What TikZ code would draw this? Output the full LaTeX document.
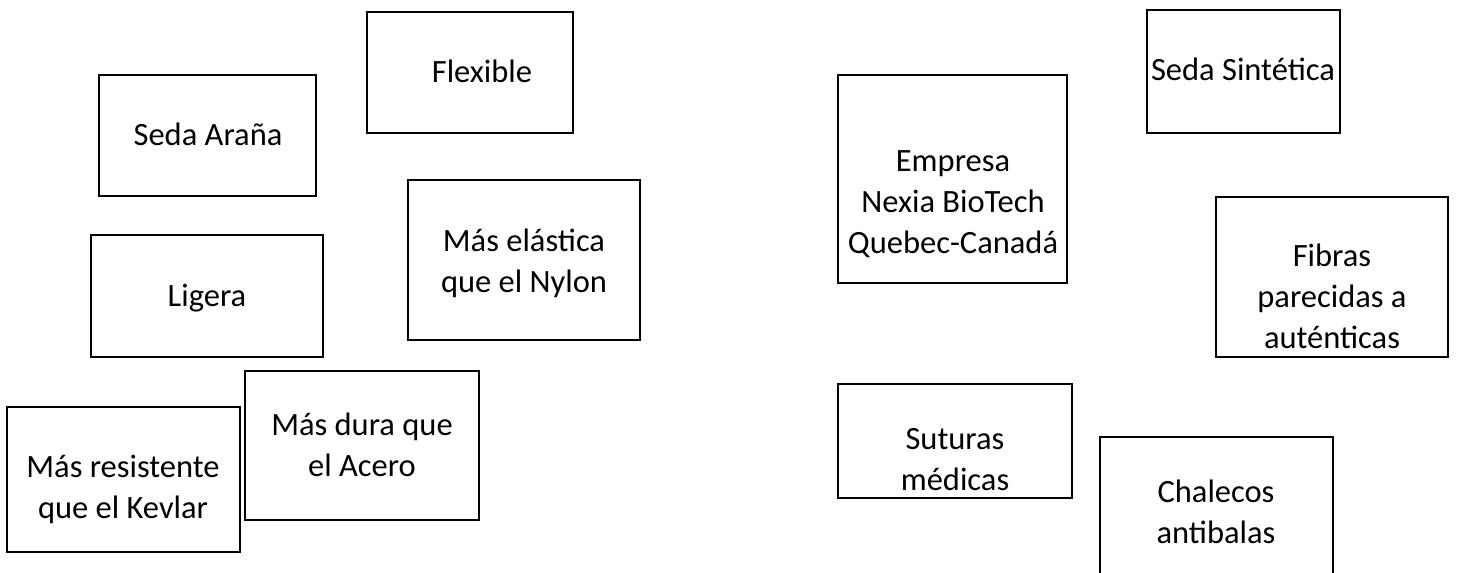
\documentclass[tikz,border=0pt]{standalone}
\usepackage{fontspec}
\setmainfont{Carlito}
\begin{document}
\begin{tikzpicture}[x=1pt,y=-1pt,
  card/.style={draw=black,line width=1.6pt,fill=white,rectangle,inner sep=0pt},
  lbl/.style={anchor=base,align=center,font=\fontsize{32.5}{41}\selectfont,inner sep=0pt}]
\clip (0,0) rectangle (1457,573);
\fill[white] (0,0) rectangle (1457,573);
% left group
\node[card,minimum width=217pt,minimum height=121pt] (bAra) at (207.5,135.5) {};
\node[lbl] (tAra) at (208,145) {Seda Araña};
\node[card,minimum width=206pt,minimum height=121pt] (bFle) at (470,72.5) {};
\node[lbl] (tFle) at (482,82) {Flexible};
\node[card,minimum width=232pt,minimum height=122pt] (bLig) at (207,296) {};
\node[lbl] (tLig) at (207,306) {Ligera};
\node[card,minimum width=232pt,minimum height=160pt] (bEla) at (524,260) {};
\node[lbl] (tEla) at (524,292) {Más elástica\\que el Nylon};
\node[card,minimum width=233pt,minimum height=145pt] (bKev) at (123.5,479.5) {};
\node[lbl] (tKev) at (123,518) {Más resistente\\que el Kevlar};
\node[card,minimum width=234pt,minimum height=149pt] (bAce) at (362,445.5) {};
\node[lbl] (tAce) at (362,476) {Más dura que\\el Acero};
% right group
\node[card,minimum width=229pt,minimum height=208pt] (bEmp) at (952.5,179) {};
\node[lbl] (tEmp) at (953,253) {Empresa\\Nexia BioTech\\Quebec-Canadá};
\node[card,minimum width=193pt,minimum height=123pt] (bSin) at (1243.5,71.5) {};
\node[lbl] (tSin) at (1243,80) {Seda Sintética};
\node[card,minimum width=232pt,minimum height=160pt] (bFib) at (1332,277) {};
\node[lbl] (tFib) at (1332,348) {Fibras\\parecidas a\\auténticas};
\node[card,minimum width=234pt,minimum height=114pt] (bSut) at (955,441) {};
\node[lbl] (tSut) at (955,490) {Suturas\\médicas};
\node[card,minimum width=233pt,minimum height=170pt] (bCha) at (1216.5,522) {};
\node[lbl] (tCha) at (1216,543) {Chalecos\\antibalas};
\end{tikzpicture}
\end{document}
